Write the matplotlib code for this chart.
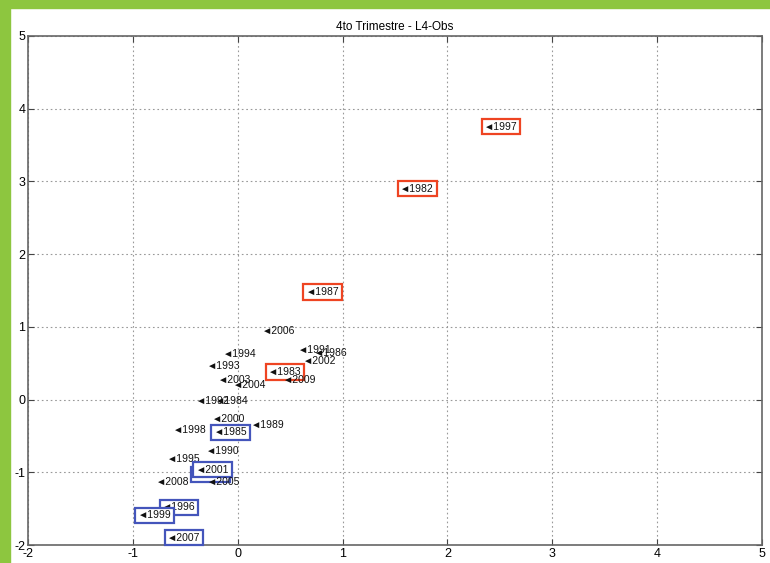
import matplotlib
matplotlib.use('Agg')
import matplotlib.pyplot as plt
from matplotlib.patches import Rectangle

plt.rcParams['axes.unicode_minus'] = False
plt.rcParams['font.family'] = ['Liberation Sans', 'DejaVu Sans']

# Data
years = ['1982', '1983', '1984', '1985', '1986', '1987', '1988', '1989', '1990',
         '1991', '1992', '1993', '1994', '1995', '1996', '1997', '1998', '1999',
         '2000', '2001', '2002', '2003', '2004', '2005', '2006', '2007', '2008', '2009']
x_vals = [1.55, 0.29, -0.22, -0.23, 0.73, 0.65, -0.42, 0.13, -0.30,
          0.57, -0.40, -0.29, -0.14, -0.67, -0.72, 2.35, -0.62, -0.95,
          -0.25, -0.40, 0.62, -0.19, -0.05, -0.29, 0.23, -0.67, -0.78, 0.43]
y_vals = [2.90, 0.38, -0.02, -0.45, 0.64, 1.48, -1.03, -0.35, -0.71,
          0.68, -0.02, 0.46, 0.63, -0.82, -1.48, 3.75, -0.42, -1.59,
          -0.27, -0.96, 0.53, 0.27, 0.20, -1.13, 0.94, -1.90, -1.13, 0.27]
red_years = ['1982', '1983', '1987', '1997']
blue_years = ['1985', '1988', '1996', '1999', '2001', '2007']

x_ticks = [-2, -1, 0, 1, 2, 3, 4, 5]
y_ticks = [-2, -1, 0, 1, 2, 3, 4, 5]

fig = plt.figure(figsize=(7.7, 5.63), dpi=100)

# green frame on left and top
fig.patches.append(Rectangle((0, 0), 10 / 770, 1, transform=fig.transFigure,
                             color='#8dc63f', zorder=-1))
fig.patches.append(Rectangle((0, 1 - 8 / 563), 1, 8 / 563, transform=fig.transFigure,
                             color='#8dc63f', zorder=-1))

ax = fig.add_axes([28 / 770, 1 - 545 / 563, 734 / 770, 509 / 563])
ax.set_xlim(-2, 5)
ax.set_ylim(-2, 5)
ax.set_xticks(x_ticks)
ax.set_yticks(y_ticks)
ax.tick_params(direction='in', length=4, labelsize=9, pad=2, top=True, right=True,
               color='#444444')
ax.grid(True, linestyle=(0, (1.5, 2.5)), color='#999999', linewidth=0.8)
for s in ax.spines.values():
    s.set_color('#666666')
    s.set_linewidth(1.2)

for yr, x, y in zip(years, x_vals, y_vals):
    bbox = None
    if yr in red_years:
        bbox = dict(boxstyle='square,pad=0.25', fc='white', ec='#ee4422', lw=1.6)
    elif yr in blue_years:
        bbox = dict(boxstyle='square,pad=0.25', fc='white', ec='#4455bb', lw=1.6)
    ax.text(x, y, '\u25c4' + yr, fontsize=7.5, ha='left', va='center',
            color='#111111', bbox=bbox)

ax.set_title('4to Trimestre - L4-Obs', fontsize=8.5, pad=4)

fig.savefig('out.png', dpi=100)
